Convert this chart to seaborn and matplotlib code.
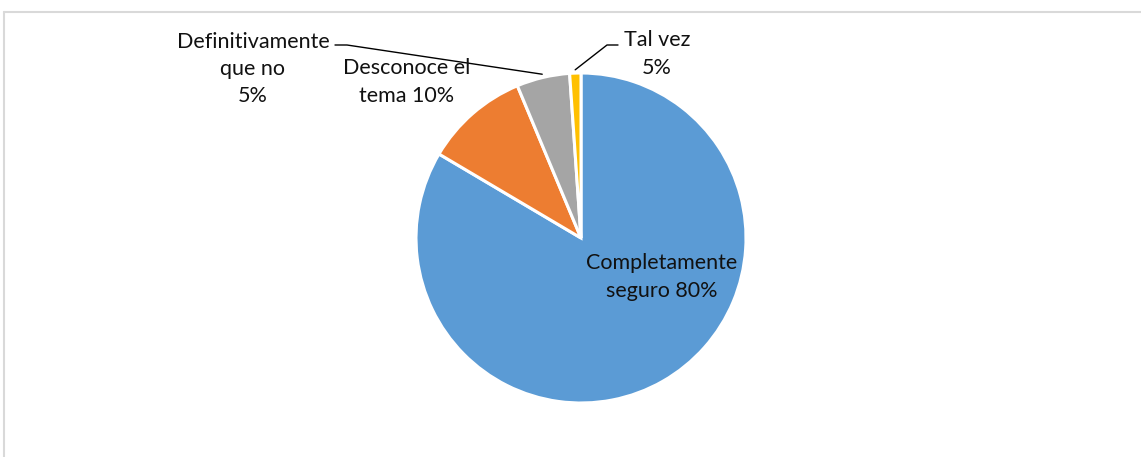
import matplotlib
matplotlib.use("Agg")
import matplotlib.pyplot as plt
from matplotlib.lines import Line2D
import numpy as np
import seaborn as sns

categories = ["Completamente seguro", "Desconoce el tema", "Definitivamente que no", "Tal vez"]
shares = [83.5, 10.2, 5.2, 1.1]
label_texts = ["Completamente\nseguro 80%", "Desconoce el\ntema 10%", "Definitivamente\nque no\n5%", "Tal vez\n5%"]
colors = ["#5B9BD5", "#ED7D31", "#A5A5A5", "#FFC000"]

sns.set_theme(style="white")
plt.rcParams["font.family"] = ["Lato", "DejaVu Sans"]

W, H = 1141, 457
fig = plt.figure(figsize=(W / 100, H / 100), dpi=100)

# pie placed in pixel terms: centre (581, 238), radius 165
cx, cy, r = 581, 238, 165
ax = fig.add_axes([(cx - r) / W, (H - cy - r) / H, 2 * r / W, 2 * r / H])
wedges, _ = ax.pie(shares, colors=sns.color_palette(colors), startangle=90, counterclock=False,
                   radius=1, wedgeprops=dict(edgecolor="white", linewidth=2.2))
ax.set_xlim(-1, 1)
ax.set_ylim(-1, 1)
ax.set_aspect("equal")
ax.axis("off")


def px(x, y):
    return (x - cx) / r, (cy - y) / r


# label positions in pixels (centre of text block)
label_pos = [(662, 277), (407, 82), (253, 69), (657, 54)]
for txt, (x, y) in zip(label_texts, label_pos):
    tx, ty = px(x, y)
    ax.text(tx, ty, txt, ha="center", va="center", fontsize=15.5, color="#111111",
            linespacing=1.45, clip_on=False)


def edge_point(i, rad=1.0):
    w = wedges[i]
    mid = np.deg2rad((w.theta1 + w.theta2) / 2)
    return rad * np.cos(mid), rad * np.sin(mid)


# leader line for "Definitivamente que no"
ex, ey = edge_point(2, 1.02)
ax.add_line(Line2D([px(335, 45)[0], px(347, 45)[0], ex], [px(335, 45)[1], px(347, 45)[1], ey],
                   color="black", lw=1, clip_on=False))
# leader line for "Tal vez"
ex, ey = edge_point(3, 1.02)
ax.add_line(Line2D([ex, px(607, 45)[0], px(618, 45)[0]], [ey, px(607, 45)[1], px(618, 45)[1]],
                   color="black", lw=1, clip_on=False))

# chart frame (top and left edges visible)
fig.add_artist(Line2D([4 / W, 1], [1 - 12 / H, 1 - 12 / H], color="#D9D9D9", lw=1.5))
fig.add_artist(Line2D([4 / W, 4 / W], [0, 1 - 12 / H], color="#D9D9D9", lw=1.5))

fig.savefig("out.png", dpi=100, facecolor="white")
